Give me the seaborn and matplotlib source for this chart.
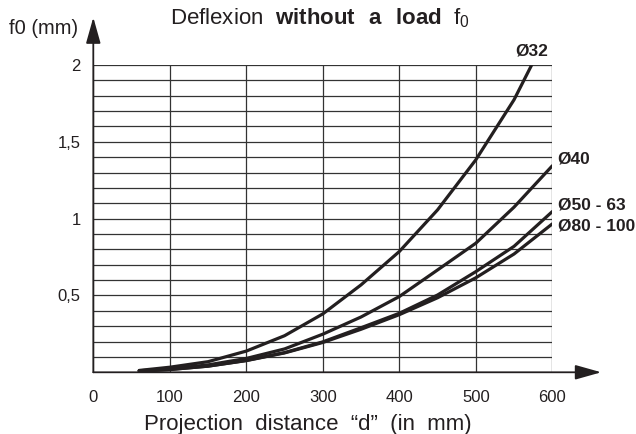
import matplotlib
matplotlib.use('Agg')
import matplotlib.pyplot as plt
import seaborn as sns
import numpy as np
import pandas as pd

# projection distance d (mm) and deflexion f0 (mm) per bore
d_32 = [60, 100, 150, 200, 250, 300, 350, 400, 450, 500, 550, 573]
f_32 = [0.012, 0.033, 0.069, 0.138, 0.238, 0.38, 0.569, 0.786, 1.057, 1.383, 1.774, 2.0]

d_std = [60, 100, 150, 200, 250, 300, 350, 400, 450, 500, 550, 600]
f_40 = [0.01, 0.022, 0.048, 0.09, 0.152, 0.248, 0.36, 0.493, 0.666, 0.84, 1.075, 1.344]
f_50 = [0.008, 0.018, 0.04, 0.077, 0.128, 0.198, 0.29, 0.384, 0.503, 0.655, 0.82, 1.046]
f_80 = [0.008, 0.018, 0.04, 0.076, 0.126, 0.194, 0.28, 0.375, 0.485, 0.615, 0.77, 0.966]

labels = ['Ø32', 'Ø40', 'Ø50 - 63', 'Ø80 - 100']
x_ticks = [0, 100, 200, 300, 400, 500, 600]
y_ticks = [0.5, 1, 1.5, 2]
y_tick_labels = ['0,5', '1', '1,5', '2']

frames = [
    pd.DataFrame({'d': d_32, 'f0': f_32, 'bore': labels[0]}),
    pd.DataFrame({'d': d_std, 'f0': f_40, 'bore': labels[1]}),
    pd.DataFrame({'d': d_std, 'f0': f_50, 'bore': labels[2]}),
    pd.DataFrame({'d': d_std, 'f0': f_80, 'bore': labels[3]}),
]
df = pd.concat(frames, ignore_index=True)

sns.set_theme(style='white')
plt.rcParams['font.family'] = ['Liberation Sans', 'DejaVu Sans']
plt.rcParams['mathtext.fontset'] = 'custom'
plt.rcParams['mathtext.rm'] = 'Liberation Sans'
plt.rcParams['mathtext.bf'] = 'Liberation Sans:bold'

ink = '#231f20'
fig = plt.figure(figsize=(6.36, 4.34), dpi=100)
ax = fig.add_axes([0.1467, 0.1422, 0.7217, 0.708])

sns.lineplot(data=df, x='d', y='f0', hue='bore', palette=[ink] * 4, estimator=None,
             sort=False, linewidth=2.3, legend=False, ax=ax, zorder=3)

ax.set_xlim(0, 600)
ax.set_ylim(0, 2)
ax.set_xticks(x_ticks)
ax.set_xticks(np.arange(50, 600, 100), minor=True)
ax.set_yticks(y_ticks)
ax.set_yticklabels(y_tick_labels)
ax.set_yticks(np.arange(0.1, 2.01, 0.1), minor=True)
ax.grid(True, which='major', color='#333333', linewidth=0.9)
ax.grid(True, which='minor', axis='y', color='#333333', linewidth=0.9)
ax.grid(False, which='minor', axis='x')
ax.tick_params(axis='x', which='major', length=0, pad=13, labelsize=12, colors=ink)
ax.tick_params(axis='x', which='minor', direction='in', length=7, width=1, color=ink)
ax.tick_params(axis='y', which='both', length=0, pad=9, labelsize=12, colors=ink)
for s in ax.spines.values():
    s.set_visible(False)

# axis arrows
arrow = dict(arrowstyle='-|>,head_length=1.6,head_width=0.45', color=ink, lw=1.3,
             mutation_scale=10, shrinkA=0, shrinkB=0)
ax.annotate('', xy=(664, 0), xytext=(0, 0), arrowprops=arrow, annotation_clip=False)
ax.annotate('', xy=(0, 2.31), xytext=(0, 0), arrowprops=arrow, annotation_clip=False)

ax.set_xlabel('Projection  distance  “d”  (in  mm)', fontsize=16, color=ink, labelpad=6, x=0.467)
ax.set_ylabel('')
fig.text(0.014, 0.935, 'f0 (mm)', fontsize=14.5, color=ink, va='center')
fig.text(0.503, 0.958, r'Deflexion  $\bf{without\ \ a\ \ load}$  f$_0$', fontsize=16,
         color=ink, ha='center', va='center')

# curve labels
ax.text(573, 2.04, labels[0], fontsize=12.5, fontweight='bold', color=ink, ha='center', va='bottom')
ax.text(607, 1.39, labels[1], fontsize=12.5, fontweight='bold', color=ink, va='center')
ax.text(607, 1.09, labels[2], fontsize=12.5, fontweight='bold', color=ink, va='center')
ax.text(607, 0.95, labels[3], fontsize=12.5, fontweight='bold', color=ink, va='center')

fig.savefig('out.png', dpi=100)
